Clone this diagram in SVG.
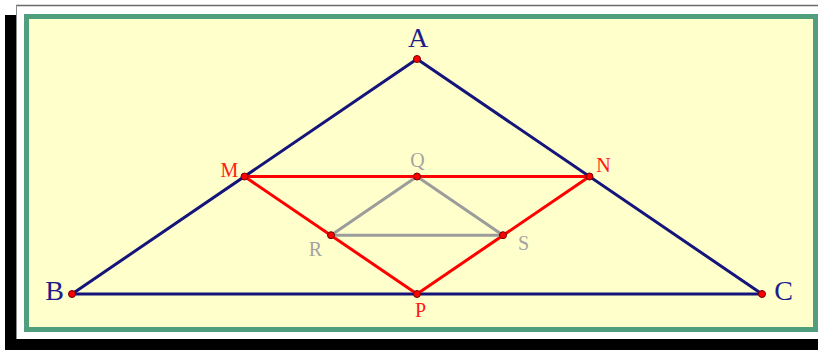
<svg xmlns="http://www.w3.org/2000/svg" width="818" height="350" viewBox="0 0 818 350">
<style>
.lbl{font-family:"Liberation Serif","Times New Roman",serif;text-anchor:middle}
.big{font-size:28px;fill:#1c1c8a}
.red{font-size:20px;fill:#ff1a1a}
.gry{font-size:20px;fill:#a3a3a3}
.nv{stroke:#14147a;stroke-width:3;fill:none}
.rd{stroke:#ff0000;stroke-width:3;fill:none}
.gy{stroke:#9c9c9c;stroke-width:3;fill:none}
.pt{fill:#ff0000;stroke:#700000;stroke-width:1}
</style>
<rect x="0" y="0" width="818" height="350" fill="#ffffff"/>
<rect x="5" y="15" width="813" height="335" fill="#000000"/>
<rect x="16" y="5" width="802" height="334" fill="#ffffff"/>
<line x1="16" y1="5.5" x2="818" y2="5.5" stroke="#6a6a6a" stroke-width="1.5"/>
<line x1="16.5" y1="5" x2="16.5" y2="339" stroke="#8a8a8a" stroke-width="1"/>
<rect x="26.5" y="16.5" width="789" height="313" fill="#ffffcc" stroke="#4f9f7f" stroke-width="5"/>
<g id="connectors">
<line class="nv" x1="72" y1="294" x2="417" y2="59"/>
<line class="nv" x1="417" y1="59" x2="762" y2="294"/>
<line class="nv" x1="72" y1="294" x2="762" y2="294"/>
<line class="rd" x1="244.5" y1="176.5" x2="589.5" y2="176.5"/>
<line class="rd" x1="244.5" y1="176.5" x2="417" y2="294"/>
<line class="rd" x1="589.5" y1="176.5" x2="417" y2="294"/>
<line class="gy" x1="417" y1="176.5" x2="331" y2="235.2"/>
<line class="gy" x1="417" y1="176.5" x2="503" y2="235.2"/>
<line class="gy" x1="331" y1="235.2" x2="503" y2="235.2"/>
</g>
<g id="A"><circle class="pt" cx="417" cy="59" r="3.5"/><text class="lbl big" x="418" y="47">A</text></g>
<g id="B"><circle class="pt" cx="72" cy="294" r="3.5"/><text class="lbl big" x="54.5" y="300">B</text></g>
<g id="C"><circle class="pt" cx="762" cy="294" r="3.5"/><text class="lbl big" x="783.5" y="300">C</text></g>
<g id="M"><circle class="pt" cx="244.5" cy="176.5" r="3.5"/><text class="lbl red" x="229.5" y="177">M</text></g>
<g id="N"><circle class="pt" cx="589.5" cy="176.5" r="3.5"/><text class="lbl red" x="603.5" y="172">N</text></g>
<g id="P"><circle class="pt" cx="417" cy="294" r="3.5"/><text class="lbl red" x="420.5" y="317">P</text></g>
<g id="Q"><circle class="pt" cx="417" cy="176.5" r="3.5"/><text class="lbl gry" x="417.5" y="167">Q</text></g>
<g id="R"><circle class="pt" cx="331" cy="235.2" r="3.5"/><text class="lbl gry" x="315.5" y="256">R</text></g>
<g id="S"><circle class="pt" cx="503" cy="235.2" r="3.5"/><text class="lbl gry" x="523.5" y="250">S</text></g>
</svg>
